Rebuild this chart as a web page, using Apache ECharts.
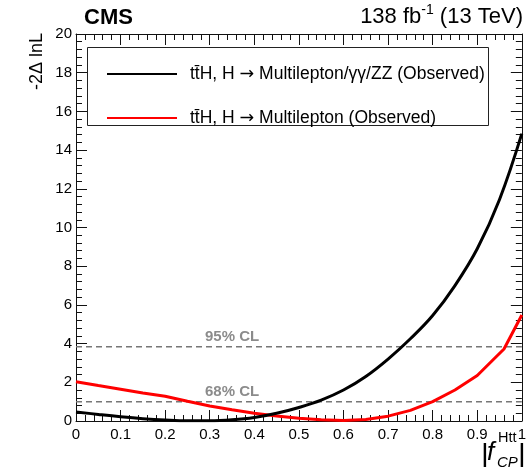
<!DOCTYPE html>
<html>
<head>
<meta charset="utf-8">
<script src="https://cdn.jsdelivr.net/npm/echarts@6/dist/echarts.min.js"></script>
<style>
html,body{margin:0;padding:0;background:#fff;}
#c{width:529px;height:467px;}
</style>
</head>
<body>
<div id="c"></div>
<script>
// ---- data ----
const combX = [0,0.05,0.1,0.15,0.2,0.25,0.3,0.35,0.4,0.45,0.5,0.55,0.6,0.65,0.7,0.75,0.8,0.85,0.9,0.95,1.0];
const combY = [0.47,0.34,0.22,0.12,0.05,0.01,0.01,0.06,0.18,0.40,0.70,1.08,1.6,2.3,3.2,4.25,5.45,7.0,8.9,11.45,14.85];
const mlX = [0,0.05,0.1,0.15,0.2,0.25,0.3,0.35,0.4,0.45,0.5,0.55,0.6,0.65,0.7,0.75,0.8,0.85,0.9,0.96,1.0];
const mlY = [2.03,1.83,1.64,1.45,1.28,1.02,0.78,0.58,0.40,0.26,0.14,0.06,0.02,0.08,0.25,0.55,1.0,1.6,2.35,3.72,5.48];
const clLevels = [1.0, 3.84];
const clLabels = ['68% CL', '95% CL'];
const clLabelX = 0.35;
const xTicks = [0,0.1,0.2,0.3,0.4,0.5,0.6,0.7,0.8,0.9,1];
const yTicks = [0,2,4,6,8,10,12,14,16,18,20];
const seriesNames = ['tt\u0304H, H \u2192 Multilepton/\u03B3\u03B3/ZZ (Observed)', 'tt\u0304H, H \u2192 Multilepton (Observed)'];

const FONT = '"Liberation Sans", Arial, Helvetica, sans-serif';
const zip = (a,b) => a.map((v,i)=>[v,b[i]]);

const mctx = document.createElement('canvas').getContext('2d');
function tw(text, font){ mctx.font = font; return mctx.measureText(text).width; }

const chart = echarts.init(document.getElementById('c'), null, {renderer:'canvas'});

function axisCommon(showLabel, isX) {
  return {
    type: 'value',
    min: isX ? xTicks[0] : yTicks[0],
    max: isX ? xTicks[xTicks.length-1] : yTicks[yTicks.length-1],
    interval: isX ? (xTicks[1]-xTicks[0]) : (yTicks[1]-yTicks[0]),
    axisLine: {show:true, onZero:false, lineStyle:{color:'#111', width:1}},
    axisTick: {show:true, inside:true, length:11, lineStyle:{color:'#111', width:1}},
    minorTick: {show:true, splitNumber:5, length:6, lineStyle:{color:'#111', width:1}},
    splitLine: {show:false},
    minorSplitLine: {show:false},
    axisLabel: {
      show: showLabel,
      margin: isX ? 6 : 4,
      fontSize: 15,
      fontFamily: FONT,
      color: '#000',
      showMinLabel: true,
      showMaxLabel: true,
      formatter: v => String(Math.round(v*10)/10)
    }
  };
}

const xMain = Object.assign(axisCommon(true, true), {position:'bottom'});
const xTop = Object.assign(axisCommon(false, true), {position:'top'});
const yMain = Object.assign(axisCommon(true, false), {position:'left'});
const yRight = Object.assign(axisCommon(false, false), {position:'right'});

const series = [
  {
    name: seriesNames[0], type:'line', data: zip(combX, combY),
    smooth: 0.4, symbol:'none',
    lineStyle:{color:'#000', width:3}, itemStyle:{color:'#000'}, z:5
  },
  {
    name: seriesNames[1], type:'line', data: zip(mlX, mlY),
    smooth: false, symbol:'none',
    lineStyle:{color:'#ff0000', width:3}, itemStyle:{color:'#ff0000'}, z:4
  }
];
clLevels.forEach((lv, i) => {
  series.push({
    type:'line', data:[[0,lv],[1,lv]], symbol:'none', silent:true,
    lineStyle:{color:'#777', width:1.5, type:[6,4]}, z:2
  });
  series.push({
    type:'scatter', data:[[clLabelX, lv]], symbolSize:0, silent:true,
    label:{show:true, position:'top', distance:2, formatter: clLabels[i],
      fontSize:15, fontWeight:'bold', fontFamily:FONT, color:'#6e6e6e'},
    z:3
  });
});

// luminosity label pieces, right-aligned at x=523
const fBig = '22px ' + FONT, fSup = '14px ' + FONT;
const wRight = tw(' (13 TeV)', fBig), wSup = tw('-1', fSup);
const lumiRightX = 523;

chart.setOption({
  animation:false,
  backgroundColor:'#fff',
  grid:{left:76, right:6, top:34, bottom:46, containLabel:false},
  xAxis:[xMain, xTop],
  yAxis:[yMain, yRight],
  legend:{
    data: seriesNames,
    orient:'vertical', left:102, top:60,
    itemWidth:70, itemHeight:14, itemGap:26,
    icon: 'path://M0,6 L70,6 L70,8 L0,8 Z',
    formatter: n => n.replace('\u2192', '{ar|\u2192}'),
    textStyle:{fontSize:17.5, fontFamily:FONT, color:'#000', padding:[0,0,0,8],
      rich:{ar:{fontSize:17.5, fontFamily:'"DejaVu Sans", sans-serif', color:'#000'}}},
    z:20
  },
  graphic:[
    {type:'rect', shape:{x:87.5, y:47.5, width:401, height:78}, style:{fill:'#fff', stroke:'#222', lineWidth:1}, z:10},
    {type:'text', x:84, y:7, style:{text:'CMS', font:'bold 22px '+FONT, fill:'#000'}, z:10},
    {type:'text', x:lumiRightX, y:6, style:{text:' (13 TeV)', font:fBig, fill:'#000', textAlign:'right'}, z:10},
    {type:'text', x:lumiRightX - wRight, y:3, style:{text:'-1', font:fSup, fill:'#000', textAlign:'right'}, z:10},
    {type:'text', x:lumiRightX - wRight - wSup, y:6, style:{text:'138 fb', font:fBig, fill:'#000', textAlign:'right'}, z:10},
    {type:'text', x:37, y:33, rotation:Math.PI/2, style:{text:'-2\u0394 lnL', font:'18px '+FONT, fill:'#000', textAlign:'right', textVerticalAlign:'middle'}, z:10},
    {type:'text', x:481, y:442, style:{text:'|', font:'30px '+FONT, fill:'#000'}, z:10},
    {type:'text', x:487, y:440, style:{text:'f', font:'italic 26px '+FONT, fill:'#000'}, z:10},
    {type:'text', x:498, y:430, style:{text:'Htt', font:'14.5px '+FONT, fill:'#000'}, z:10},
    {type:'text', x:497, y:455, style:{text:'CP', font:'italic 15px '+FONT, fill:'#000'}, z:10},
    {type:'text', x:518, y:442, style:{text:'|', font:'30px '+FONT, fill:'#000'}, z:10}
  ],
  series: series
});
</script>
</body>
</html>
